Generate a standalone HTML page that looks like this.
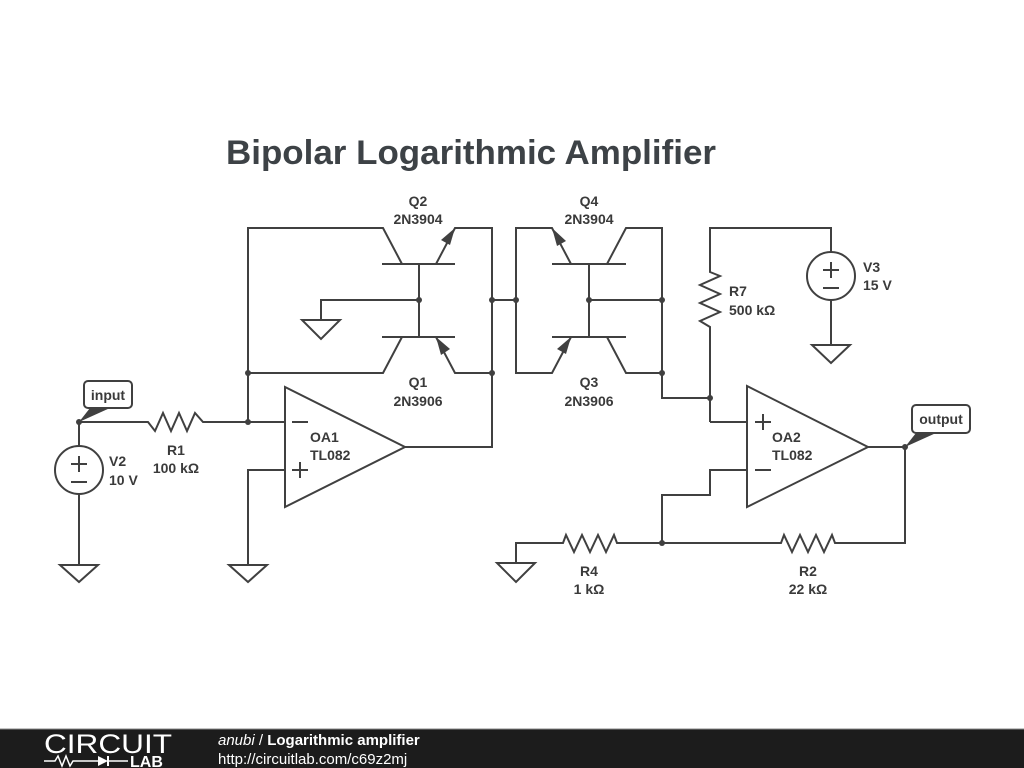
<!DOCTYPE html>
<html><head><meta charset="utf-8"><style>
body{margin:0;background:#fff;width:1024px;height:768px;overflow:hidden}
svg{display:block}
</style></head><body>
<svg width="1024" height="768" viewBox="0 0 1024 768" xmlns="http://www.w3.org/2000/svg">
<g font-family="Liberation Sans, sans-serif" fill="#3a3a3a">
<text x="226" y="164" font-size="34" font-weight="bold" fill="#3d4246" textLength="490" lengthAdjust="spacingAndGlyphs">Bipolar Logarithmic Amplifier</text>
</g>
<g stroke="#404040" stroke-width="2" fill="none" stroke-linejoin="miter">
<polyline points="248,422 248,228 383,228 402,264"/>
<line x1="382" y1="264" x2="455" y2="264"/>
<polyline points="436,264 455,228 492,228 492,447 405,447"/>
<line x1="419" y1="264" x2="419" y2="337"/>
<line x1="382" y1="337" x2="455" y2="337"/>
<polyline points="402,337 383,373 248,373"/>
<polyline points="436,337 455,373 492,373"/>
<polyline points="419,300 321,300 321,320"/>
<polygon points="302,320 340,320 321,339"/>
<line x1="492" y1="300" x2="516" y2="300"/>
<polyline points="571,264 552,228 516,228 516,373 552,373 571,337"/>
<line x1="552" y1="264" x2="626" y2="264"/>
<line x1="552" y1="337" x2="626" y2="337"/>
<line x1="589" y1="264" x2="589" y2="337"/>
<line x1="589" y1="300" x2="662" y2="300"/>
<polyline points="607,264 626,228 662,228 662,398 710,398"/>
<polyline points="607,337 626,373 662,373"/>
<polyline points="79,422 148,422 155,431 163,413 171,431 179,413 187,431 195,413 203,422 285,422"/>
<line x1="79" y1="422" x2="79" y2="446"/>
<circle cx="79" cy="470" r="24"/>
<line x1="79" y1="494" x2="79" y2="565"/>
<polygon points="60,565 98,565 79,582"/>
<polyline points="285,470 248,470 248,565"/>
<polygon points="229,565 267,565 248,582"/>
<polygon points="285,387 285,507 405,447"/>
<polyline points="710,422 710,327 700,321 720,312 700,303 720,294 700,285 720,276 710,272 710,228 831,228 831,252"/>
<circle cx="831" cy="276" r="24"/>
<line x1="831" y1="300" x2="831" y2="345"/>
<polygon points="812,345 850,345 831,363"/>
<line x1="710" y1="422" x2="747" y2="422"/>
<polygon points="747,386 747,507 868,447"/>
<polyline points="747,470 710,470 710,495 662,495 662,543"/>
<polyline points="868,447 905,447 905,543 835,543 832,535 824,552 816,535 808,552 800,535 792,552 784,535 781,543 617,543 614,535 606,552 598,535 590,552 582,535 574,552 566,535 563,543 516,543 516,563"/>
<polygon points="497,563 535,563 516,582"/>
<line x1="292" y1="422" x2="308" y2="422"/>
<line x1="292" y1="470" x2="308" y2="470"/><line x1="300" y1="462" x2="300" y2="478"/>
<line x1="755" y1="422" x2="771" y2="422"/><line x1="763" y1="414" x2="763" y2="430"/>
<line x1="755" y1="470" x2="771" y2="470"/>
<line x1="71" y1="464" x2="87" y2="464"/><line x1="79" y1="456" x2="79" y2="472"/>
<line x1="71" y1="482" x2="87" y2="482"/>
<line x1="823" y1="270" x2="839" y2="270"/><line x1="831" y1="262" x2="831" y2="278"/>
<line x1="823" y1="288" x2="839" y2="288"/>
<rect x="84" y="381" width="48" height="27" rx="4" fill="#fff"/>
<rect x="912" y="405" width="58" height="28" rx="4" fill="#fff"/>
</g>
<g fill="#404040">
<polygon points="455,228 441,240 450,245"/>
<polygon points="552,228 557,246 566,241"/>
<polygon points="436,337 450,349 441,355"/>
<polygon points="571,337 557,349 566,354"/>
<polygon points="79,422 90,408 110,408"/>
<polygon points="905,447 916,433 936,433"/>
<circle cx="79" cy="422" r="3"/><circle cx="248" cy="422" r="3"/><circle cx="248" cy="373" r="3"/>
<circle cx="419" cy="300" r="3"/><circle cx="492" cy="300" r="3"/><circle cx="492" cy="373" r="3"/>
<circle cx="516" cy="300" r="3"/><circle cx="589" cy="300" r="3"/><circle cx="662" cy="300" r="3"/>
<circle cx="662" cy="373" r="3"/><circle cx="710" cy="398" r="3"/><circle cx="662" cy="543" r="3"/>
<circle cx="905" cy="447" r="3"/>
</g>
<g font-family="Liberation Sans, sans-serif" font-size="14" font-weight="bold" fill="#3a3a3a">
<text x="108" y="400" text-anchor="middle">input</text>
<text x="941" y="424" text-anchor="middle">output</text>
<text x="418" y="206" text-anchor="middle">Q2</text><text x="418" y="224" text-anchor="middle">2N3904</text>
<text x="589" y="206" text-anchor="middle">Q4</text><text x="589" y="224" text-anchor="middle">2N3904</text>
<text x="418" y="387" text-anchor="middle">Q1</text><text x="418" y="406" text-anchor="middle">2N3906</text>
<text x="589" y="387" text-anchor="middle">Q3</text><text x="589" y="406" text-anchor="middle">2N3906</text>
<text x="176" y="455" text-anchor="middle">R1</text><text x="176" y="473" text-anchor="middle">100 kΩ</text>
<text x="109" y="466">V2</text><text x="109" y="485">10 V</text>
<text x="310" y="442">OA1</text><text x="310" y="460">TL082</text>
<text x="772" y="442">OA2</text><text x="772" y="460">TL082</text>
<text x="729" y="296">R7</text><text x="729" y="315">500 kΩ</text>
<text x="863" y="272">V3</text><text x="863" y="290">15 V</text>
<text x="589" y="576" text-anchor="middle">R4</text><text x="589" y="594" text-anchor="middle">1 kΩ</text>
<text x="808" y="576" text-anchor="middle">R2</text><text x="808" y="594" text-anchor="middle">22 kΩ</text>
</g>
<rect x="0" y="729" width="1024" height="39" fill="#1c1c1c"/>
<line x1="0" y1="729" x2="1024" y2="729" stroke="#888" stroke-width="1"/>
<g font-family="Liberation Sans, sans-serif" fill="#fff">
<text x="44" y="753" font-size="27" textLength="128" lengthAdjust="spacingAndGlyphs">CIRCUIT</text>
<text x="130" y="767" font-size="16" font-weight="bold">LAB</text>
<polyline points="44,761 55,761 58,756 62,766 66,756 70,766 73,761 98,761" stroke="#fff" stroke-width="1.5" fill="none"/>
<polygon points="98,756 98,766 108,761" fill="#fff"/>
<line x1="108" y1="756" x2="108" y2="766" stroke="#fff" stroke-width="2"/>
<line x1="108" y1="761" x2="128" y2="761" stroke="#fff" stroke-width="1.5"/>
<text x="218" y="745" font-size="15"><tspan font-style="italic">anubi</tspan> / <tspan font-weight="bold">Logarithmic amplifier</tspan></text>
<text x="218" y="764" font-size="15">http://circuitlab.com/c69z2mj</text>
</g>
</svg>
</body></html>
